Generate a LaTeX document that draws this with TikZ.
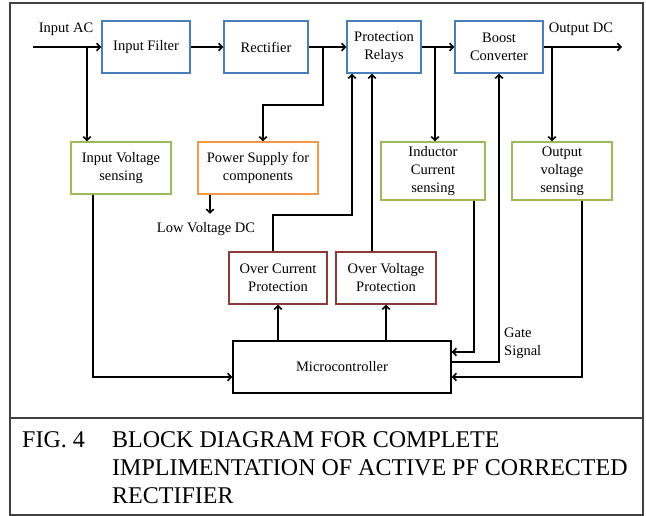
\documentclass[tikz,border=0pt]{standalone}
\usepackage{fontspec}
\setmainfont{Liberation Serif}
\usetikzlibrary{arrows.meta}
\definecolor{bblue}{HTML}{4A7EBB}
\definecolor{bgreen}{HTML}{9BBB59}
\definecolor{borange}{HTML}{F79646}
\definecolor{bred}{HTML}{8C3A36}
\definecolor{framec}{HTML}{404040}
\tikzset{
  blk/.style={draw, line width=1.5pt, inner sep=0pt, align=center,
    minimum height=52pt, font=\fontsize{14.5}{18}\selectfont},
  lbl/.style={inner sep=0pt, font=\fontsize{14.5}{18}\selectfont},
  captxt/.style={inner sep=0pt, anchor=base west, font=\fontsize{24}{28}\selectfont},
  arr/.style={line width=1.6pt, -{Straight Barb[length=3.5pt,width=7.5pt]}},
  ln/.style={line width=1.5pt}
}
\begin{document}
\begin{tikzpicture}[x=1pt,y=-1pt]
\useasboundingbox (0,0) rectangle (646,516);
\fill[white] (0,0) rectangle (646,516);
\draw[framec, line width=1.2pt] (10,3) rectangle (643,515);
\draw[framec, line width=1.2pt] (10,418) -- (643,418);

% blocks
\node[blk, draw=bblue, minimum width=88pt] (filt) at (146,47) {Input Filter};
\node[blk, draw=bblue, minimum width=84pt] (rect) at (266,47) {Rectifier};
\node[blk, draw=bblue, minimum width=74pt] (rel) at (384,47) {Protection\\Relays};
\node[blk, draw=bblue, minimum width=88pt] (boost) at (499,47) {Boost\\Converter};
\node[blk, draw=bgreen, minimum width=100pt] (ivs) at (121,168) {Input Voltage\\sensing};
\node[blk, draw=borange, minimum width=120pt] (ps) at (258,168) {Power Supply for\\components};
\node[blk, draw=bgreen, minimum width=104pt, minimum height=58pt] (ind) at (433,171) {Inductor\\Current\\sensing};
\node[blk, draw=bgreen, minimum width=100pt, minimum height=58pt] (ovs) at (562,171) {Output\\voltage\\sensing};
\node[blk, draw=bred, minimum width=98pt] (ocp) at (278,278) {Over Current\\Protection};
\node[blk, draw=bred, minimum width=100pt] (ovp) at (386,278) {Over Voltage\\Protection};
\node[blk, draw=black, minimum width=218pt] (mc) at (342,367) {Microcontroller};

% labels
\node[lbl] (lac) at (66,29) {Input AC};
\node[lbl] (ldc) at (581,29) {Output DC};
\node[lbl] (llv) at (206,229) {Low Voltage DC};
\node[lbl, anchor=west, align=left] (lgate) at (504,343) {Gate\\Signal};

% coordinates
\coordinate (inac) at (33,47);
\coordinate (outdc) at (622,47);
\coordinate (b1) at (87,47);
\coordinate (b2) at (323,47);
\coordinate (b3) at (435,47);
\coordinate (b4) at (552,47);

% main chain
\draw[arr] (inac) -- (filt.west);
\draw[arr] (filt) -- (rect);
\draw[arr] (rect) -- (rel);
\draw[arr] (rel) -- (boost);
\draw[arr] (boost) -- (outdc);

% branches
\draw[arr] (b1) -- (b1 |- ivs.north);
\draw[arr] (b2) -- ++(0,58) -| ([xshift=5pt]ps.north);
\draw[arr] ([xshift=-48pt]ps.south) -- ++(0,19);
\draw[arr] (b3) -- (b3 |- ind.north);
\draw[arr] (b4) -- (b4 |- ovs.north);

% to microcontroller
\draw[arr] ([xshift=-28pt]ivs.south) |- ([yshift=-10pt]mc.west);
\draw[arr] ([xshift=41pt]ind.south) |- ([yshift=15pt]mc.east);
\draw[arr] ([xshift=20pt]ovs.south) |- ([yshift=-10pt]mc.east);
\draw[arr] ([yshift=5pt]mc.east) -| (boost.south);

% protections
\draw[arr] (ocp.south |- mc.north) -- (ocp.south);
\draw[arr] (ovp.south |- mc.north) -- (ovp.south);
\draw[arr] ([xshift=-5pt]ocp.north) -- ++(0,-36) -| ([xshift=-32pt]rel.south);
\draw[arr] ([xshift=-14pt]ovp.north) -- ([xshift=-14pt]ovp.north |- rel.south);

% caption
\node[captxt] (fig) at (22,447) {FIG. 4};
\node[captxt] (c1) at (112,447) {BLOCK DIAGRAM FOR COMPLETE};
\node[captxt] (c2) at (112,475) {IMPLIMENTATION OF ACTIVE PF CORRECTED};
\node[captxt] (c3) at (112,503) {RECTIFIER};
\end{tikzpicture}
\end{document}
